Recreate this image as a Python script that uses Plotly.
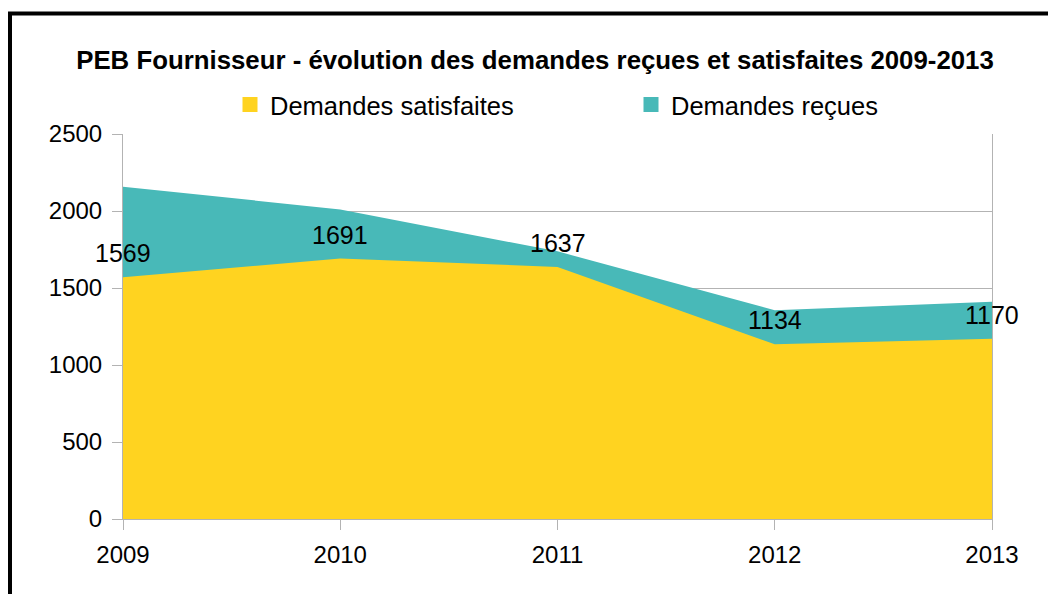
import plotly.graph_objects as go

years = [2009, 2010, 2011, 2012, 2013]
satisfaites = [1569, 1691, 1637, 1134, 1170]
recues = [2158, 2010, 1738, 1356, 1411]
series_names = ["Demandes satisfaites", "Demandes reçues"]
title_text = "PEB Fournisseur - évolution des demandes reçues et satisfaites 2009-2013"
y_ticks = [0, 500, 1000, 1500, 2000, 2500]

YELLOW = "#ffd320"
TEAL = "#48b9b8"
GRID = "#b3b3b3"
FONT = "Liberation Sans, Arial, sans-serif"

fig = go.Figure()

# areas (received behind, satisfied in front)
fig.add_trace(go.Scatter(x=years, y=recues, mode="lines", line=dict(width=0, color=TEAL),
                         fill="tozeroy", fillcolor=TEAL, showlegend=False, hoverinfo="skip"))
fig.add_trace(go.Scatter(x=years, y=satisfaites, mode="lines", line=dict(width=0, color=YELLOW),
                         fill="tozeroy", fillcolor=YELLOW, showlegend=False, hoverinfo="skip"))

# legend-only entries (each in its own legend box for exact placement)
fig.add_trace(go.Scatter(x=[None], y=[None], mode="markers", name=series_names[0],
                         marker=dict(symbol="square", size=15, color=YELLOW), legend="legend"))
fig.add_trace(go.Scatter(x=[None], y=[None], mode="markers", name=series_names[1],
                         marker=dict(symbol="square", size=15, color=TEAL), legend="legend2"))

# data labels
for x, v in zip(years, satisfaites):
    fig.add_annotation(x=x, y=v, text=str(v), showarrow=False, xanchor="center",
                       yanchor="bottom", yshift=8, font=dict(family=FONT, size=25, color="black"))

# frame border
fig.add_shape(type="rect", xref="paper", yref="paper",
              x0=(10 - 123) / 869, x1=1.2, y0=-0.3, y1=(519 - 13.5) / 385,
              line=dict(color="black", width=4), layer="above")

legend_common = dict(orientation="h", xanchor="left", y=(519 - 105) / 385, yanchor="middle",
                     font=dict(family=FONT, size=25.5, color="black"), bgcolor="rgba(0,0,0,0)")

fig.update_layout(
    width=1048, height=594,
    margin=dict(l=123, r=56, t=134, b=75),
    paper_bgcolor="white", plot_bgcolor="white",
    font=dict(family=FONT, size=24, color="black"),
    title=dict(text="<b>" + title_text + "</b>", x=535 / 1048, xanchor="center",
               y=1 - 60 / 594, yanchor="middle", font=dict(family=FONT, size=25.8, color="black")),
    legend=dict(x=(230 - 123) / 869, **legend_common),
    legend2=dict(x=(631 - 123) / 869, **legend_common),
    xaxis=dict(range=[2009, 2013], tickvals=years, ticktext=[str(y) for y in years],
               showgrid=False, zeroline=False, showline=True, linecolor=GRID, linewidth=1,
               ticks="outside", ticklen=10, tickcolor=GRID, tickfont=dict(size=24),
               ticklabelstandoff=4),
    yaxis=dict(range=[0, 2500], tickvals=y_ticks, showgrid=True, gridcolor=GRID, gridwidth=1,
               zeroline=False, showline=True, mirror=True, linecolor=GRID, linewidth=1,
               ticks="outside", ticklen=10, tickcolor=GRID, tickfont=dict(size=24),
               ticklabelstandoff=5),
)

fig.write_html("out.html", config={"displayModeBar": False},
               post_script="document.body.style.margin='0';")
